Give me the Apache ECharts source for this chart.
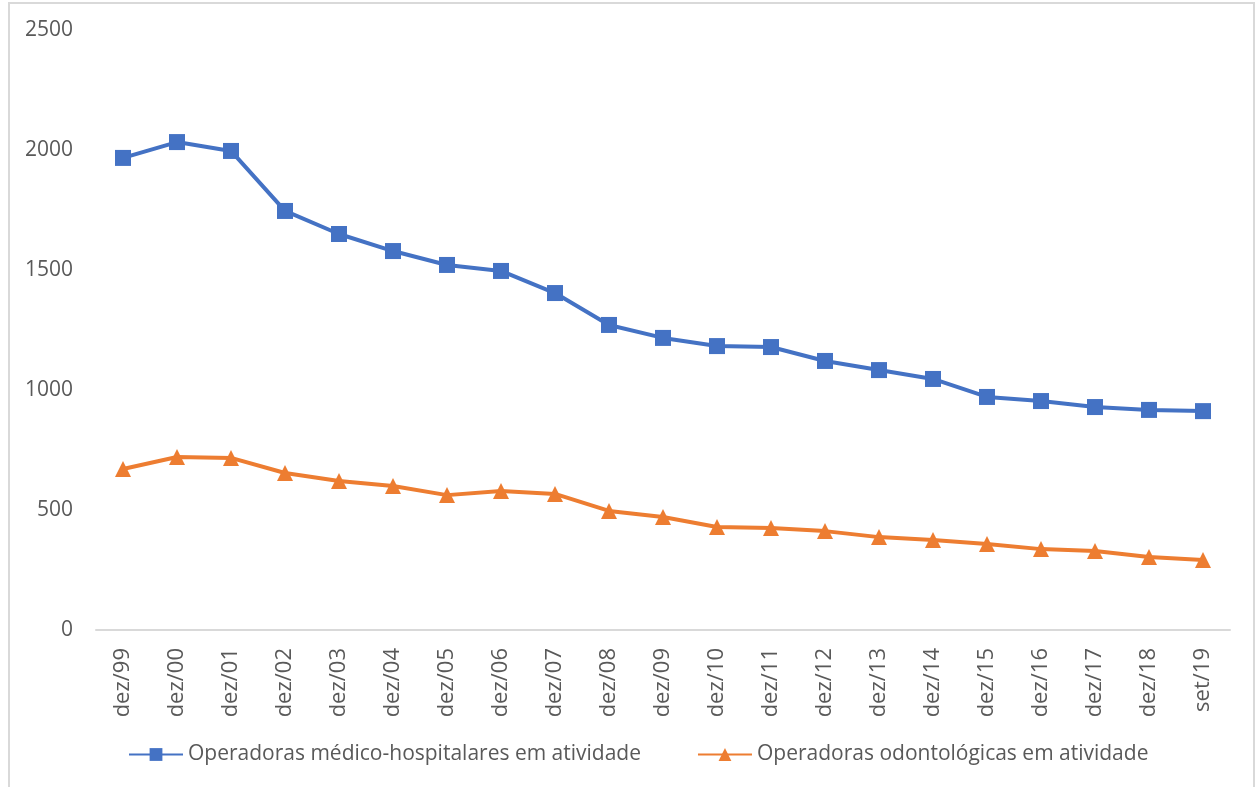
<!DOCTYPE html>
<html>
<head>
<meta charset="utf-8">
<script src="https://cdn.jsdelivr.net/npm/echarts@6/dist/echarts.min.js"></script>
<style>
  body { margin: 0; background: #fff; }
  #frame { position: absolute; left: 8px; top: 2px; width: 1243px; height: 800px;
           border-left: 2px solid #d9d9d9; border-top: 2px solid #d9d9d9; border-right: 2px solid #d9d9d9; }
  #chart { position: absolute; left: 0; top: 0; width: 1258px; height: 787px; }
</style>
</head>
<body>
<div id="frame"></div>
<div id="chart"></div>
<script type="text/javascript">
  var categories = ['dez/99','dez/00','dez/01','dez/02','dez/03','dez/04','dez/05','dez/06','dez/07','dez/08',
                    'dez/09','dez/10','dez/11','dez/12','dez/13','dez/14','dez/15','dez/16','dez/17','dez/18','set/19'];
  var medicoHosp = [1967, 2033, 1996, 1746, 1650, 1579, 1521, 1496, 1404, 1271,
                    1217, 1183, 1179, 1121, 1083, 1046, 971, 954, 929, 917, 912];
  var odonto = [671, 721, 717, 654, 621, 600, 562, 579, 567, 496,
                471, 429, 425, 412, 387, 375, 358, 337, 329, 304, 292];
  var seriesNames = ['Operadoras médico-hospitalares em atividade', 'Operadoras odontológicas em atividade'];

  var font = '"Open Sans", Lato, sans-serif';
  var myChart = echarts.init(document.getElementById('chart'), null, {renderer: 'canvas'});
  var option = {
    animation: false,
    textStyle: { fontFamily: font },
    grid: { left: 96, right: 28, top: 30, bottom: 157 },
    legend: {
      left: 123, top: 739,
      itemWidth: 54, itemHeight: 16, itemGap: 56,
      textStyle: { fontSize: 21, color: '#595959', fontFamily: font },
      data: seriesNames
    },
    xAxis: {
      type: 'category',
      data: categories,
      boundaryGap: true,
      axisLine: { lineStyle: { color: '#d9d9d9', width: 2 } },
      axisTick: { show: false },
      axisLabel: { rotate: 90, fontSize: 22, color: '#595959', margin: 18, fontFamily: font }
    },
    yAxis: {
      type: 'value',
      min: 0, max: 2500, interval: 500,
      splitLine: { show: false },
      axisLine: { show: false },
      axisTick: { show: false },
      axisLabel: { fontSize: 21, color: '#595959', margin: 23, fontFamily: font,
                   formatter: function (v) { return String(v); } }
    },
    series: [
      {
        name: seriesNames[0], type: 'line', data: medicoHosp,
        symbol: 'rect', symbolSize: 16,
        lineStyle: { color: '#4472c4', width: 4 },
        itemStyle: { color: '#4472c4' }
      },
      {
        name: seriesNames[1], type: 'line', data: odonto,
        symbol: 'triangle', symbolSize: 16,
        lineStyle: { color: '#ed7d31', width: 4 },
        itemStyle: { color: '#ed7d31' }
      }
    ]
  };
  myChart.setOption(option);
</script>
</body>
</html>
